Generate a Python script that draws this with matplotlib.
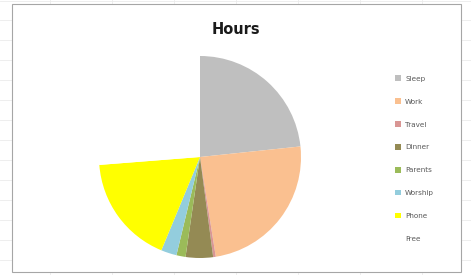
import matplotlib
matplotlib.use("Agg")
import matplotlib.pyplot as plt
from matplotlib.patches import Rectangle
from matplotlib.lines import Line2D

categories = ["Sleep", "Work", "Travel", "Dinner", "Parents", "Worship", "Phone", "Free"]
hours = [5.6, 5.8, 0.1, 1.05, 0.35, 0.6, 4.2, 6.3]
colors = ["#BFBFBF", "#FAC090", "#D99694", "#948A54", "#9BBB59", "#93CDDD", "#FFFF00", "#FFFFFF"]
title = "Hours"

W, H = 471, 275
fig = plt.figure(figsize=(W / 100, H / 100), dpi=100)
fig.patch.set_facecolor("white")

# spreadsheet grid lines behind the chart
for x in [50, 112, 174, 236, 298, 360, 422]:
    fig.add_artist(Line2D([x / W, x / W], [0, 1], color="#EBEBEB", lw=0.6, zorder=0))
for y in [1, 20, 40, 60, 80, 100, 120, 140, 160, 180, 200, 220, 240, 260]:
    fig.add_artist(Line2D([0, 1], [1 - y / H, 1 - y / H], color="#EBEBEB", lw=0.6, zorder=0))

# chart area
fig.add_artist(Rectangle((12 / W, 1 - 272 / H), (461 - 12) / W, (272 - 4) / H,
                         facecolor="white", edgecolor="#A6A6A6", lw=0.8, zorder=1))

cx, cy, r = 200, 157, 101
ax = fig.add_axes([(cx - r) / W, (H - cy - r) / H, 2 * r / W, 2 * r / H])
ax.set_zorder(2)
wedges, _ = ax.pie(hours, colors=colors, startangle=90, counterclock=False,
                   radius=1, wedgeprops=dict(linewidth=0))
ax.set_xlim(-1, 1)
ax.set_ylim(-1, 1)
ax.set_aspect("equal")
ax.axis("off")

fig.text(236 / W, 1 - 30 / H, title, ha="center", va="center",
         fontsize=10.5, fontweight="bold", color="#1a1a1a", zorder=3)

leg = fig.legend(wedges, categories, loc="upper left",
                 bbox_to_anchor=(395 / W, 1 - 75.5 / H),
                 frameon=False, fontsize=5.2, labelcolor="#595959",
                 handlelength=0.8, handleheight=0.8, handletextpad=0.6,
                 labelspacing=2.3, borderaxespad=0, borderpad=0)
leg.set_zorder(3)

fig.savefig("out.png", dpi=100)
